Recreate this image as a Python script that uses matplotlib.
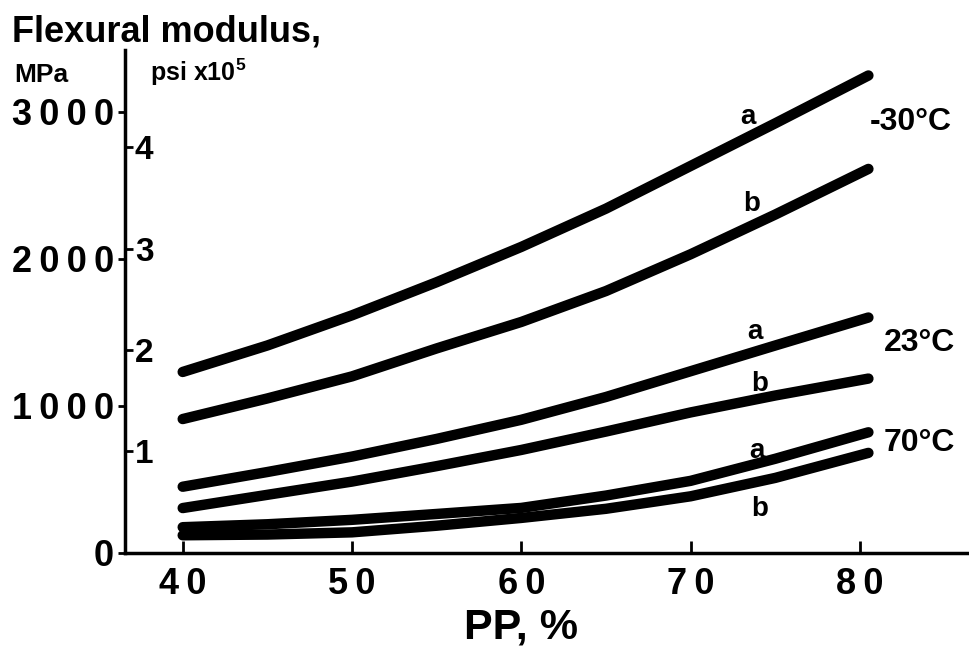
import matplotlib
matplotlib.use("Agg")
import matplotlib.pyplot as plt
from matplotlib.ticker import FuncFormatter

plt.rcParams["font.family"] = ["Liberation Sans", "DejaVu Sans"]
plt.rcParams["font.weight"] = "bold"
plt.rcParams["axes.labelweight"] = "bold"
plt.rcParams["mathtext.fontset"] = "custom"
plt.rcParams["mathtext.rm"] = "Liberation Sans:bold"
plt.rcParams["mathtext.bf"] = "Liberation Sans:bold"

# PP content (%) and flexural modulus (MPa)
pp = [40, 45, 50, 55, 60, 65, 70, 75, 80.5]

mod_m30_a = [1230, 1410, 1615, 1840, 2080, 2340, 2630, 2920, 3245]
mod_m30_b = [910, 1050, 1200, 1390, 1570, 1780, 2030, 2300, 2610]
mod_23_a = [450, 550, 655, 775, 905, 1060, 1235, 1410, 1600]
mod_23_b = [305, 395, 485, 590, 700, 825, 955, 1070, 1185]
mod_70_a = [175, 195, 225, 265, 306, 390, 490, 640, 820]
mod_70_b = [120, 125, 140, 185, 238, 300, 385, 510, 680]

curves = [mod_m30_a, mod_m30_b, mod_23_a, mod_23_b, mod_70_a, mod_70_b]

# curve letters and temperature labels (x, y in data units)
letters = ["a", "b", "a", "b", "a", "b"]
letter_x = [73.4, 73.6, 73.8, 74.1, 73.9, 74.1]
letter_y = [2960, 2370, 1500, 1150, 690, 300]
temps = ["-30°C", "23°C", "70°C"]
temp_x = [83.0, 83.5, 83.5]
temp_y = [2930, 1430, 750]

x_ticks = [40, 50, 60, 70, 80]
y_ticks = [0, 1000, 2000, 3000]
psi_ticks = [1, 2, 3, 4]

MPA_PER_1E5_PSI = 689.476


def spaced(v, pos):
    # old typeset look: digits set apart with thin spaces
    return "\u2009".join(str(int(round(v))))


fig = plt.figure(figsize=(9.7, 6.63), dpi=100)
ax = fig.add_axes([0.129, 0.166, 0.871, 0.759])

for y in curves:
    ax.plot(pp, y, color="black", lw=7.5, solid_capstyle="round")

for t, x, y in zip(letters, letter_x, letter_y):
    ax.text(x, y, t, fontsize=20, ha="center", va="center")
for t, x, y in zip(temps, temp_x, temp_y):
    ax.text(x, y, t, fontsize=23, ha="center", va="center")

ax.set_xlim(36.6, 86.5)
ax.set_ylim(0, 3420)
ax.set_xticks(x_ticks)
ax.set_yticks(y_ticks)
ax.xaxis.set_major_formatter(FuncFormatter(spaced))
ax.yaxis.set_major_formatter(FuncFormatter(spaced))
ax.tick_params(axis="x", direction="in", length=9, width=2, pad=10, labelsize=26)
ax.tick_params(axis="y", direction="out", length=5, width=2, pad=3, labelsize=26)

for s in ["top", "right"]:
    ax.spines[s].set_visible(False)
for s in ["left", "bottom"]:
    ax.spines[s].set_linewidth(2.5)

# psi x 10^5 scale drawn on the inner side of the left axis
sec = ax.secondary_yaxis("left", functions=(lambda m: m / MPA_PER_1E5_PSI,
                                             lambda p: p * MPA_PER_1E5_PSI))
sec.set_alignment("right")
sec.spines["right"].set_visible(False)
sec.set_yticks(psi_ticks)
sec.tick_params(direction="out", length=6, width=2, pad=1, labelsize=24)

ax.set_xlabel("PP, %", fontsize=31, labelpad=4)
ax.xaxis.label.set_x((60 - 36.6) / (86.5 - 36.6))

fig.text(0.012, 0.978, "Flexural modulus,", fontsize=26, va="top")
fig.text(0.015, 0.905, "MPa", fontsize=19, va="top")
fig.text(0.155, 0.914, r"psi x10$^{\mathbf{5}}$", fontsize=18, va="top")

fig.savefig("out.png", dpi=100)
